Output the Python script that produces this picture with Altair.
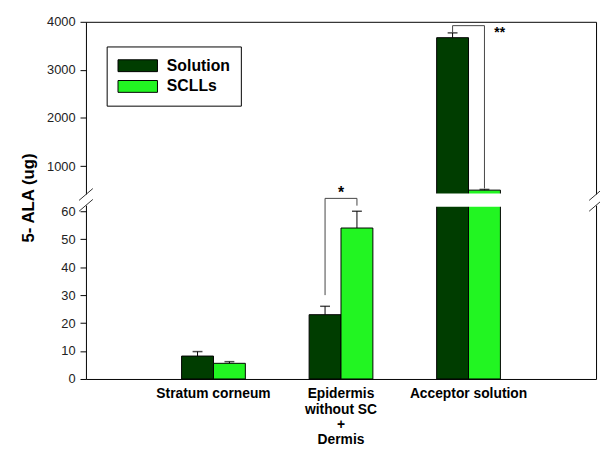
import altair as alt
import pandas as pd

# ---- data ----
categories = ["Stratum corneum", "Epidermis|without SC|+|Dermis", "Acceptor solution"]
series = ["Solution", "SCLLs"]
solution_mean = [8.2, 23.0, 3670]
solution_err = [1.6, 3.0, 100]
sclls_mean = [5.6, 54.0, 500]
sclls_err = [0.6, 6.0, 15]

sig_category = ["Epidermis|without SC|+|Dermis", "Acceptor solution"]
sig_left_bottom = [30, 3775]
sig_top = [64.6, 3920]
sig_right_bottom = [62, 535]
sig_label = ["*", "**"]

y_tick_values = [0, 10, 20, 30, 40, 50, 60, 1000, 2000, 3000, 4000]
y_break_domain = [0, 66, 420, 4000]      # broken axis: lower 0-66, upper 420-4000
y_break_range = [362, 175, 174.5, 0]
gap_values = [62, 66]                    # white band where the axis is broken
colors = ["#003d00", "#22f522"]

FONT = "Liberation Sans"
W, H = 517, 362

# ---- tables ----
rows = []
for i, c in enumerate(categories):
    rows.append(dict(category=c, series="Solution", mean=solution_mean[i],
                     top=solution_mean[i] + solution_err[i]))
    rows.append(dict(category=c, series="SCLLs", mean=sclls_mean[i],
                     top=sclls_mean[i] + sclls_err[i]))
bars_df = pd.DataFrame(rows)

brows = []
for i, c in enumerate(sig_category):
    brows += [
        dict(group=i, category=c, series="Solution", y=sig_left_bottom[i], o=0),
        dict(group=i, category=c, series="Solution", y=sig_top[i], o=1),
        dict(group=i, category=c, series="SCLLs", y=sig_top[i], o=2),
        dict(group=i, category=c, series="SCLLs", y=sig_right_bottom[i], o=3),
    ]
br_df = pd.DataFrame(brows)
lab_df = pd.DataFrame(dict(category=sig_category, top=sig_top, label=sig_label,
                           series=["SCLLs"] * len(sig_category)))

xscale = alt.Scale(domain=categories, paddingInner=0.5, paddingOuter=0.75)
xoff = alt.Scale(domain=series, paddingInner=0, paddingOuter=0)
yscale = alt.Scale(domain=y_break_domain, range=y_break_range, nice=False, zero=False)

bars = alt.Chart(bars_df).mark_bar(stroke="black", strokeWidth=1).encode(
    x=alt.X("category:N", scale=xscale, axis=alt.Axis(
        orient="bottom", title=None, labelAngle=0,
        labelExpr="split(datum.label, '|')", labelFont=FONT, labelFontSize=14,
        labelFontWeight="bold", labelColor="black", labelPadding=8,
        labelLineHeight=15.5, labelBaseline="top", ticks=False,
        domainColor="black", domainWidth=1, zindex=0)),
    xOffset=alt.XOffset("series:N", scale=xoff),
    y=alt.Y("mean:Q", scale=yscale, axis=alt.Axis(
        orient="left", values=y_tick_values, format="d", grid=False,
        title="5- ALA (ug)", titleX=-58, titleY=178, titleAngle=270,
        titleAlign="center", titleBaseline="middle", titleFont=FONT,
        titleFontSize=17, titleFontWeight="bold", titleColor="black",
        labelFont=FONT, labelFontSize=13, labelColor="#222",
        labelPadding=5, tickSize=6, tickColor="black",
        domainColor="black", domainWidth=1, zindex=0)),
    color=alt.Color("series:N", scale=alt.Scale(domain=series, range=colors),
                    legend=alt.Legend(
                        orient="none", legendX=21, legendY=25, title=None,
                        padding=11, strokeColor="black", fillColor="white",
                        symbolType="M-1,-0.75H4V0.75H-1Z", symbolSize=256,
                        symbolStrokeColor="black", symbolStrokeWidth=1,
                        symbolOpacity=1, labelFont=FONT, labelFontSize=16,
                        labelFontWeight="bold", labelColor="black",
                        labelOffset=33, rowPadding=4)),
)

err_rule = alt.Chart(bars_df).mark_rule(color="black", strokeWidth=1).encode(
    x=alt.X("category:N", scale=xscale, axis=alt.Axis(
        orient="top", labels=False, ticks=False, title=None,
        domainColor="black", domainWidth=1, zindex=0)),
    xOffset=alt.XOffset("series:N", scale=xoff),
    y=alt.Y("mean:Q", scale=yscale, axis=alt.Axis(
        orient="right", labels=False, ticks=False, title=None, grid=False,
        domainColor="black", domainWidth=1, zindex=0)),
    y2="top:Q",
)

err_cap = alt.Chart(bars_df).mark_tick(orient="horizontal", color="black",
                                       size=10, thickness=1.5).encode(
    x=alt.X("category:N", scale=xscale, axis=None),
    xOffset=alt.XOffset("series:N", scale=xoff),
    y=alt.Y("top:Q", scale=yscale, axis=None),
)

brackets = alt.Chart(br_df).mark_line(color="#444", strokeWidth=1).encode(
    x=alt.X("category:N", scale=xscale, axis=None),
    xOffset=alt.XOffset("series:N", scale=xoff),
    y=alt.Y("y:Q", scale=yscale, axis=None),
    detail="group:N",
    order="o:Q",
)

star1 = alt.Chart(lab_df).transform_filter(alt.datum.label == "*").mark_text(
    font=FONT, fontSize=16, fontWeight="bold", color="black", dy=-5).encode(
    x=alt.X("category:N", scale=xscale, axis=None),
    y=alt.Y("top:Q", scale=yscale, axis=None),
    text="label:N",
)
star2 = alt.Chart(lab_df).transform_filter(alt.datum.label == "**").mark_text(
    font=FONT, fontSize=14, fontWeight="bold", color="black", dx=10, dy=7,
    align="left").encode(
    x=alt.X("category:N", scale=xscale, axis=None),
    xOffset=alt.XOffset("series:N", scale=xoff),
    y=alt.Y("top:Q", scale=yscale, axis=None),
    text="label:N",
)

one = alt.Data(values=[{}])
bar_gap = alt.Chart(one).mark_rect(fill="white", stroke="white", strokeWidth=2).encode(
    x=alt.X(datum=categories[2], type="nominal", scale=xscale, axis=None),
    y=alt.Y(datum=gap_values[0], type="quantitative", scale=yscale, axis=None),
    y2=alt.Y2(datum=gap_values[1]),
)
left_gap = alt.Chart(one).mark_rect(fill="white").encode(
    x=alt.value(-2), x2=alt.value(2),
    y=alt.Y(datum=gap_values[0], type="quantitative", scale=yscale, axis=None),
    y2=alt.Y2(datum=gap_values[1]),
)
right_gap = alt.Chart(one).mark_rect(fill="white").encode(
    x=alt.value(W - 2), x2=alt.value(W + 2),
    y=alt.Y(datum=gap_values[0], type="quantitative", scale=yscale, axis=None),
    y2=alt.Y2(datum=gap_values[1]),
)

def slash(x0, yc):
    return alt.Chart(one).mark_rule(color="#333", strokeWidth=1).encode(
        x=alt.value(x0 - 7), x2=alt.value(x0 + 7),
        y=alt.value(yc + 6), y2=alt.value(yc - 6))

slashes = [slash(0, 175), slash(0, 186), slash(W, 175), slash(W, 186)]

chart = alt.layer(bars, err_rule, err_cap, bar_gap, left_gap, right_gap,
                  brackets, star1, star2, *slashes).properties(
    width=W, height=H,
    autosize=alt.AutoSizeParams(type="none"),
    padding={"left": 79, "top": 11, "right": 4, "bottom": 70},
    background="white",
).configure_view(stroke=None)

chart.save("out.html", embed_options={"renderer": "svg", "actions": False})
